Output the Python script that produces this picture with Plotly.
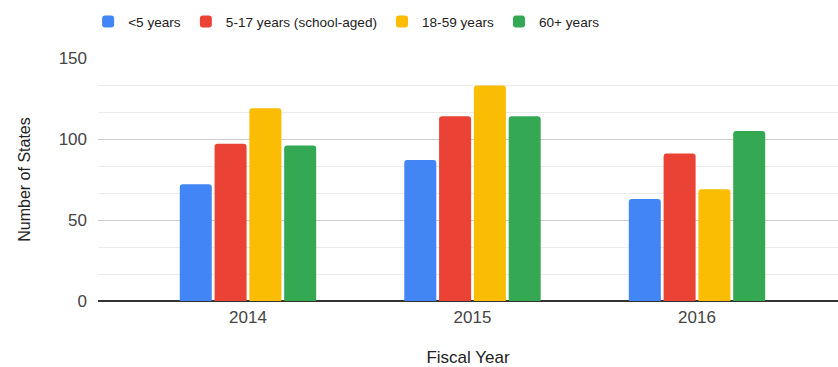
import plotly.graph_objects as go

years = ["2014", "2015", "2016"]
series_names = ["<5 years", "5-17 years (school-aged)", "18-59 years", "60+ years"]
under5 = [72, 87, 63]
school_aged = [97, 114, 91]
adults = [119, 133, 69]
seniors = [96, 114, 105]
colors = ["#4285F4", "#EA4335", "#FBBC04", "#34A853"]
y_ticks = [0, 50, 100, 150]

fig = go.Figure()
for name, vals, col in zip(series_names, [under5, school_aged, adults, seniors], colors):
    fig.add_trace(go.Bar(x=years, y=vals, name=name, marker=dict(color=col, line=dict(width=0))))

font = "Arial, Liberation Sans, sans-serif"
fig.update_layout(
    width=838, height=367,
    margin=dict(l=98, r=0, t=58, b=66),
    paper_bgcolor="white", plot_bgcolor="white",
    barmode="group", bargap=0.38, bargroupgap=0.08, barcornerradius=3,
    font=dict(family=font, size=16, color="#444444"),
    legend=dict(orientation="h", x=0.336, xanchor="center", y=1.15, yanchor="middle",
                font=dict(family=font, size=13.6, color="#222222"), itemwidth=30,
                traceorder="normal"),
    xaxis=dict(type="category", range=[-0.668, 2.628], showgrid=False, ticks="",
               showline=False, zeroline=False, ticklabelstandoff=4,
               title=dict(text="Fiscal Year", font=dict(size=17, color="#222222"), standoff=26),
               tickfont=dict(size=17, color="#444444")),
    yaxis=dict(range=[0, 150], tickvals=y_ticks, ticktext=[str(v) for v in y_ticks],
               showgrid=True, gridcolor="#CCCCCC", gridwidth=1,
               minor=dict(tickvals=[50/3, 100/3, 200/3, 250/3, 350/3, 400/3], showgrid=True,
                          gridcolor="#EBEBEB", gridwidth=1),
               zeroline=True, zerolinecolor="#333333", zerolinewidth=1.5,
               showline=False, ticks="", ticklabelstandoff=10,
               title=dict(text="Number of States", font=dict(size=16, color="#222222"), standoff=24),
               tickfont=dict(size=17, color="#444444")),
)

fig.write_html("out.html")
